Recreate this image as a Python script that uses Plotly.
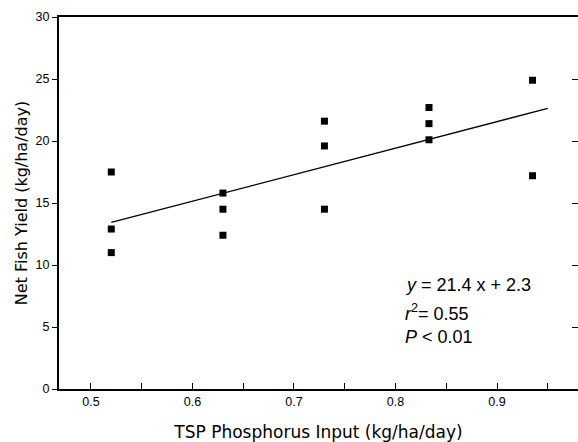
import plotly.graph_objects as go

# data
x_vals = [0.52, 0.52, 0.52, 0.63, 0.63, 0.63, 0.73, 0.73, 0.73, 0.833, 0.833, 0.833, 0.935, 0.935]
y_vals = [17.5, 12.9, 11.0, 15.8, 14.5, 12.4, 21.6, 19.6, 14.5, 22.7, 21.4, 20.1, 24.9, 17.2]
slope = 21.4
intercept = 2.3
line_x = [0.52, 0.95]
line_y = [slope * v + intercept for v in line_x]
x_ticks = [0.5, 0.6, 0.7, 0.8, 0.9]
x_labels = ["0.5", "0.6", "0.7", "0.8", "0.9"]
y_ticks = [0, 5, 10, 15, 20, 25, 30]

font = "Liberation Sans, Arial, sans-serif"
title_font = "DejaVu Sans, sans-serif"

fig = go.Figure()
fig.add_trace(go.Scatter(x=line_x, y=line_y, mode="lines",
                         line=dict(color="black", width=1.3), showlegend=False, hoverinfo="skip"))
fig.add_trace(go.Scatter(x=x_vals, y=y_vals, mode="markers",
                         marker=dict(symbol="square", size=7, color="black"), showlegend=False))
fig.add_trace(go.Scatter(x=[0.5], y=[-5], yaxis="y2", mode="markers",
                         marker=dict(size=1, opacity=0), showlegend=False, hoverinfo="skip"))

fig.update_layout(
    width=578, height=442,
    margin=dict(l=59, r=0, t=17, b=53, autoexpand=False),
    paper_bgcolor="white", plot_bgcolor="white",
    font=dict(family=font, color="black"),
    xaxis=dict(range=[0.4685, 0.9798], tickvals=x_ticks, ticktext=x_labels,
               ticks="inside", ticklen=6, tickwidth=1, tickcolor="black",
               minor=dict(dtick=0.05, tick0=0.5, ticks="inside", ticklen=6, tickcolor="black"),
               showline=True, linecolor="black", linewidth=2, mirror=True,
               showgrid=False, zeroline=False, tickfont=dict(size=12.5),
               title=dict(text="TSP Phosphorus Input (kg/ha/day)",
                          font=dict(size=17, family=title_font), standoff=18)),
    yaxis=dict(range=[0, 30], tickvals=y_ticks, ticks="outside", ticklen=5,
               tickcolor="black", showline=True, linecolor="black", linewidth=2,
               showgrid=False, zeroline=False, tickfont=dict(size=12.5),
               title=dict(text="Net Fish Yield (kg/ha/day)",
                          font=dict(size=16, family=title_font), standoff=4)),
    yaxis2=dict(range=[0, 30], overlaying="y", side="right", tickvals=[5, 10, 15, 20, 25],
                ticks="inside", ticklen=6, tickcolor="black", showticklabels=False,
                showline=False, showgrid=False, zeroline=False),
)

ann_x = 0.807
fig.add_annotation(x=ann_x, y=8.4, xref="x", yref="y", xanchor="left", yanchor="middle",
                   text="<i>y</i> = 21.4 x + 2.3", showarrow=False, font=dict(size=18))
fig.add_annotation(x=ann_x, y=6.2, xref="x", yref="y", xanchor="left", yanchor="middle",
                   text="<i>r</i><sup>2</sup>= 0.55", showarrow=False, font=dict(size=18))
fig.add_annotation(x=ann_x, y=4.2, xref="x", yref="y", xanchor="left", yanchor="middle",
                   text="<i>P</i> < 0.01", showarrow=False, font=dict(size=18))

fig.write_html("out.html", config={"displayModeBar": False},
               post_script="document.body.style.margin='0';document.body.style.padding='0';")
